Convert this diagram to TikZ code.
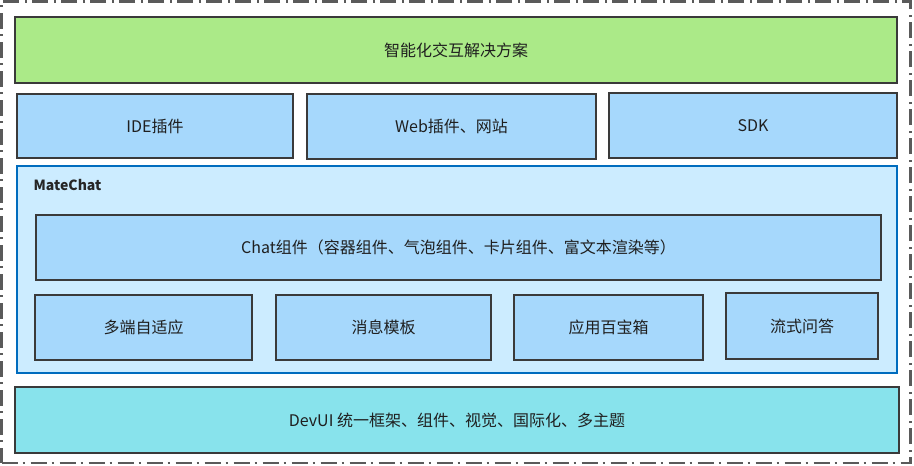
\documentclass[tikz,border=0pt]{standalone}
\usepackage{fontspec}
\setmainfont{Noto Sans CJK SC}
\definecolor{greenfill}{HTML}{ABEA88}
\definecolor{bluefill}{HTML}{A6D8FC}
\definecolor{lightfill}{HTML}{CCECFF}
\definecolor{cyanfill}{HTML}{88E3EC}
\definecolor{frameblue}{HTML}{006CBE}
\definecolor{boxline}{HTML}{3A3A3A}
\definecolor{dashgray}{HTML}{5A5A5A}
\begin{document}
\begin{tikzpicture}[x=0.75pt,y=-0.75pt,
  sz/.style 2 args={minimum width=#1*0.75pt,minimum height=#2*0.75pt},
  box/.style={draw=boxline,line width=1.3pt,inner sep=0pt,outer sep=0pt,font=\fontsize{12pt}{14pt}\selectfont,text=black!88},
  greenbox/.style={box,fill=greenfill},
  bluebox/.style={box,fill=bluefill},
  cyanbox/.style={box,fill=cyanfill},
  container/.style={draw=frameblue,line width=2.2pt,fill=lightfill,inner sep=0pt,outer sep=0pt},
  outerframe/.style={draw=dashgray,line width=1.6pt,inner sep=0pt,dash pattern=on 12pt off 3.75pt on 1.5pt off 4.5pt}]
\useasboundingbox (0,0) rectangle (914,465);
\node[outerframe,sz={909}{461.5}] (frame) at (456,232.25) {};
% top
\node[greenbox,sz={882}{66}] (top) at (456,50) {智能化交互解决方案};
\node[bluebox,sz={276}{64}] (ide) at (155,126) {IDE插件};
\node[bluebox,sz={289}{65}] (web) at (451.5,126.5) {Web插件、网站};
\node[bluebox,sz={288}{65}] (sdk) at (753,125.5) {SDK};
% container
\node[container,sz={880}{207}] (matechat) at (457,269.5) {};
\node[anchor=west,font=\fontsize{10.5pt}{12pt}\selectfont\bfseries,text=black!85] (mc) at (29,185) {MateChat};
\node[bluebox,sz={845}{65}] (chat) at (458.5,247.5) {Chat组件（容器组件、气泡组件、卡片组件、富文本渲染等）};
\node[bluebox,sz={217}{65}] (multi) at (143.5,327.5) {多端自适应};
\node[bluebox,sz={215}{65}] (msg) at (383.5,327.5) {消息模板};
\node[bluebox,sz={189}{65}] (app) at (608.5,327.5) {应用百宝箱};
\node[bluebox,sz={152}{66}] (qa) at (802,326) {流式问答};
% bottom
\node[cyanbox,sz={884}{66}] (devui) at (457,420) {DevUI 统一框架、组件、视觉、国际化、多主题};
\end{tikzpicture}
\end{document}
